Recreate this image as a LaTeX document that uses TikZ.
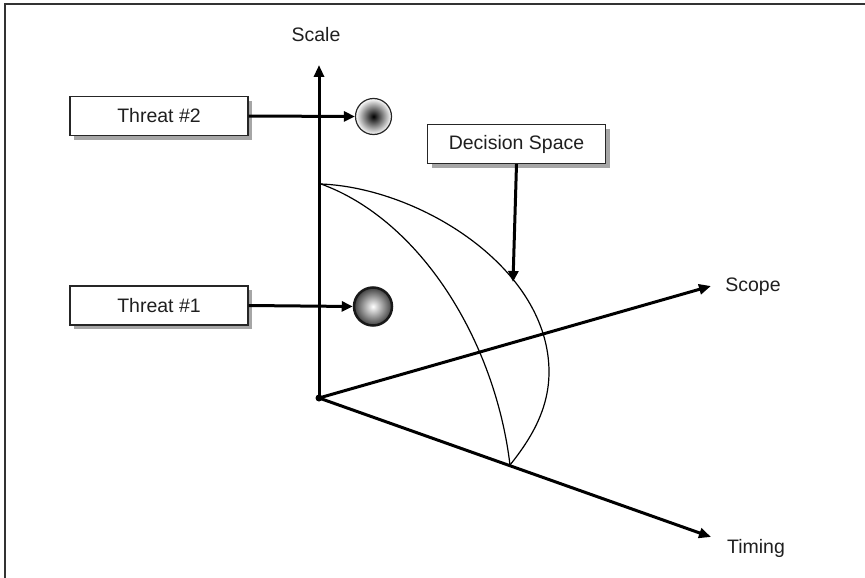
\documentclass[tikz,border=0pt]{standalone}
\usepackage{fontspec}
\setmainfont{Liberation Sans}
\usetikzlibrary{arrows.meta,shadows}
\begin{document}
\begin{tikzpicture}[x=1pt,y=-1pt,
  box/.style={draw=black!85, line width=1.2pt, fill=white, minimum width=178pt, minimum height=39pt,
    inner sep=0pt, font=\fontsize{19.5}{23}\selectfont, text=black!88,
    drop shadow={shadow xshift=4pt, shadow yshift=-4pt, fill=black!35, opacity=1}},
  lbl/.style={font=\fontsize{19.5}{23}\selectfont, inner sep=0pt, text=black!88},
  axis/.style={line width=3pt, -{Triangle[length=12pt,width=10pt]}},
  pointer/.style={line width=3pt, -{Triangle[length=11pt,width=10pt]}},
  curve/.style={line width=1.2pt},
]
\useasboundingbox (0,0) rectangle (865,578);
% frame (top and left only)
\draw[line width=2pt, black!80] (4.5,578) -- (4.5,4) -- (865,4);

% axes
\coordinate (O) at (319,398);
\coordinate (scaleTip) at (319,65);
\coordinate (scopeTip) at (711,286);
\coordinate (timingTip) at (711,537);
\draw[axis] (O) -- (scaleTip);
\draw[axis] (O) -- (scopeTip);
\draw[axis] (O) -- (timingTip);
\fill (O) circle (3.5pt);

\node[lbl] (scaleLbl) at (316,35) {Scale};
\node[lbl] (scopeLbl) at (753,287) {Scope};
\node[lbl] (timingLbl) at (756,548) {Timing};

% decision space curves
\coordinate (top) at (321,184);
\coordinate (bot) at (510,465);
\coordinate (bulge) at (549,372);
\draw[curve] (top) .. controls (420,188) and (549,268) .. (bulge)
                   .. controls (549,410) and (530,440) .. (bot);
\draw[curve] (top) .. controls (420,220) and (495,340) .. (bot);

% boxes
\node[box] (t2box) at (159,116) {Threat \#2};
\node[box] (t1box) at (159,305.5) {Threat \#1};
\node[box] (dsbox) at (516.5,144) {Decision Space};

% threat circles
\node[circle, minimum size=36pt, inner sep=0pt, draw=black!85, line width=1.2pt,
      shading=radial, inner color=black, outer color=white] (t2c) at (373.5,116.5) {};
\node[circle, minimum size=38pt, inner sep=0pt, draw=black!90, line width=2.5pt,
      shading=radial, inner color=white, outer color=black!75] (t1c) at (373,306.5) {};

% pointers
\draw[pointer] (t2box.east) -- (t2c.west);
\draw[pointer] (t1box.east) -- (t1c.west);
\coordinate (dsTip) at (513,282);
\draw[pointer] (dsbox.south) -- (dsTip);
\end{tikzpicture}
\end{document}
